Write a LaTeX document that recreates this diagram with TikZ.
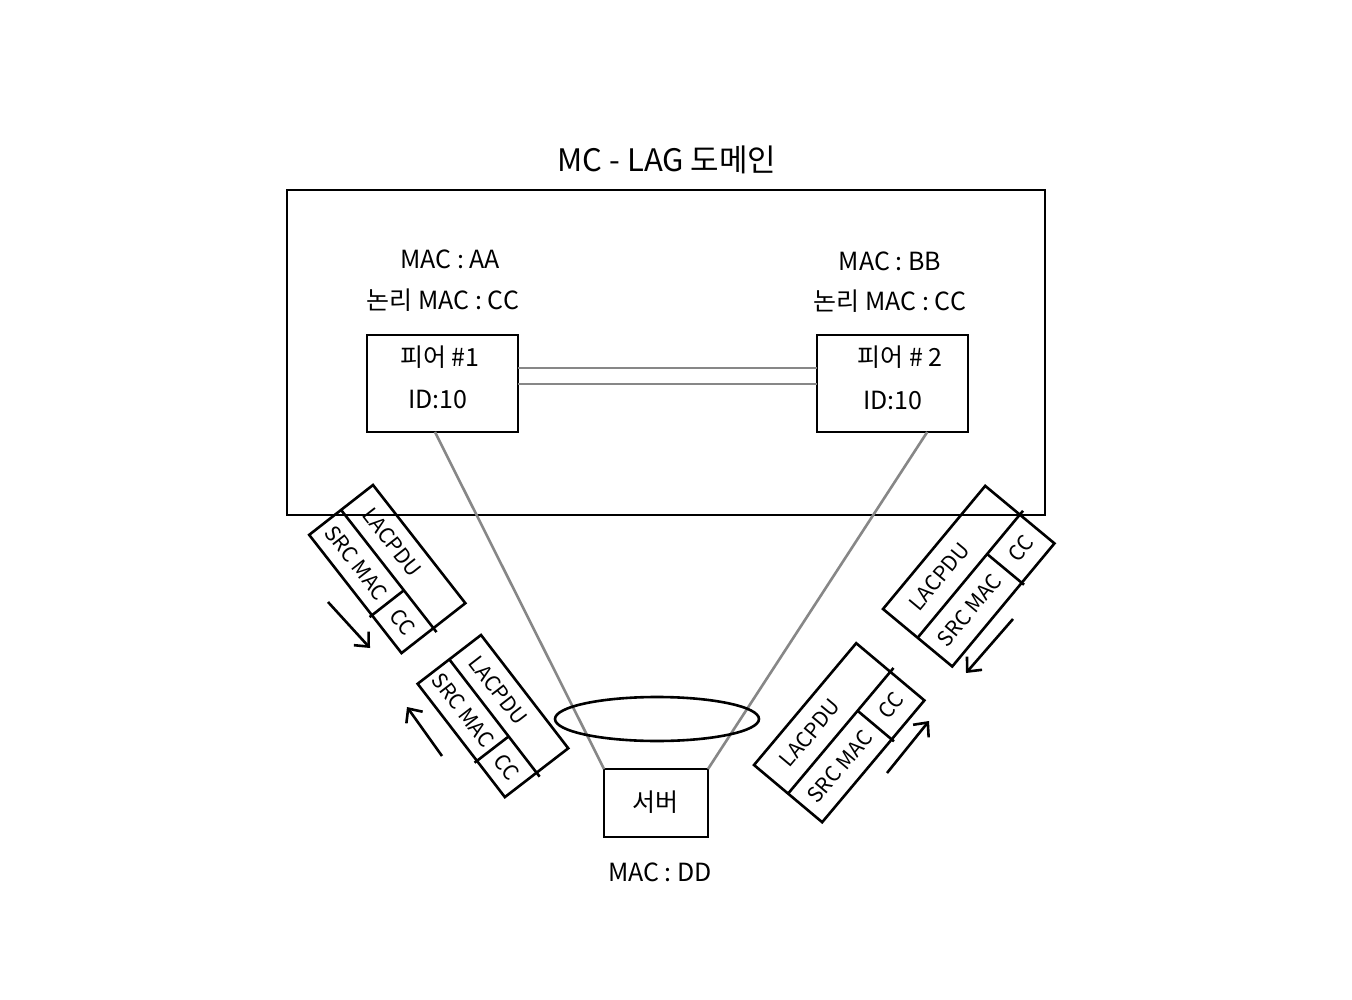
\documentclass[tikz,border=0pt]{standalone}
\usepackage{fontspec}
\setmainfont{Noto Sans CJK KR}
\usetikzlibrary{shapes.geometric,arrows.meta,calc}
\tikzset{
  ln/.style={line width=2.6pt, black, line join=miter},
  grayln/.style={line width=2.6pt, color=black!47},
  boxnode/.style={draw, line width=2.6pt, rectangle, inner sep=0pt, outer sep=0pt},
  lbl/.style={font=\fontsize{25}{30}\selectfont, inner sep=0pt},
  pktxt/.style={font=\fontsize{21}{24}\selectfont, inner sep=0pt},
  arr/.style={line width=2.6pt, -{Straight Barb[length=11pt,width=20pt,line width=2.6pt]}}
}
\newcommand{\lacpdubox}[6]{%
  \begin{scope}[shift={(#2,#3)}, rotate=#4, transform shape]
    \draw[ln] (0,0) rectangle (#5,#6);
    \draw[ln] (0,#6/2) -- (#5+5,#6/2);
    \draw[ln] (0.68*#5,#6/2) -- (0.68*#5,#6+3);
    \node[pktxt] (#1-a) at (0.38*#5,#6/4) {LACPDU};
    \node[pktxt] (#1-b) at (0.34*#5,3*#6/4) {SRC MAC};
    \node[pktxt] (#1-c) at (0.84*#5,3*#6/4) {CC};
  \end{scope}}
\begin{document}
\begin{tikzpicture}[x=1pt,y=-1pt]
\useasboundingbox (0,0) rectangle (1352,1000);
\fill[white] (0,0) rectangle (1352,1000);

% domain
\node[boxnode, minimum width=758pt, minimum height=325pt] (domain) at (666,352.5) {};
\node[lbl, font=\fontsize{31}{36}\selectfont] (title) at (667,160) {MC - LAG 도메인};

% peers
\node[boxnode, minimum width=151pt, minimum height=97pt] (peer1) at (442.5,383.5) {};
\node[boxnode, minimum width=151pt, minimum height=97pt] (peer2) at (892.5,383.5) {};
\node[lbl] (p1t) at (440,357) {피어 \#1};
\node[lbl] (p1id) at (438,399) {ID:10};
\node[lbl] (p2t) at (900,357) {피어 \# 2};
\node[lbl] (p2id) at (893,400) {ID:10};
\node[lbl] (p1mac) at (450,259) {MAC : AA};
\node[lbl] (p1lmac) at (443,300) {논리 MAC : CC};
\node[lbl] (p2mac) at (890,261) {MAC : BB};
\node[lbl] (p2lmac) at (890,301) {논리 MAC : CC};

% peer link
\draw[grayln] ([yshift=15.5pt]peer1.east) -- ([yshift=15.5pt]peer2.west);
\draw[grayln] ([yshift=-0.5pt]peer1.east) -- ([yshift=-0.5pt]peer2.west);

% server
\node[boxnode, minimum width=104pt, minimum height=68pt] (server) at (656,803) {};
\node[lbl] (srvt) at (655,802) {서버};
\node[lbl] (srvmac) at (660,872) {MAC : DD};

% links to server
\draw[grayln] ($(peer1.south west)!0.45!(peer1.south east)$) -- (server.north west);
\draw[grayln] ($(peer2.south west)!0.73!(peer2.south east)$) -- (server.north east);

% LAG ellipse
\node[draw, ellipse, line width=2.6pt, minimum width=204pt, minimum height=44pt, inner sep=0pt] (lag) at (657,719) {};

% LACPDU packets
\lacpdubox{pkA}{373}{485}{-52}{150}{81}
\lacpdubox{pkB}{481}{635}{-52.4}{143}{80}
\lacpdubox{pkC}{883}{609}{50.3}{160}{90}
\lacpdubox{pkD}{754}{765}{50}{159}{89}

% arrows
\coordinate (a1s) at (328,602); \coordinate (a1e) at (370,648);
\coordinate (a2s) at (442,756); \coordinate (a2e) at (407,707);
\coordinate (a3s) at (1013,619); \coordinate (a3e) at (966,673);
\coordinate (a4s) at (887,773); \coordinate (a4e) at (929,721);
\draw[arr] (a1s) -- (a1e);
\draw[arr] (a2s) -- (a2e);
\draw[arr] (a3s) -- (a3e);
\draw[arr] (a4s) -- (a4e);
\end{tikzpicture}
\end{document}
